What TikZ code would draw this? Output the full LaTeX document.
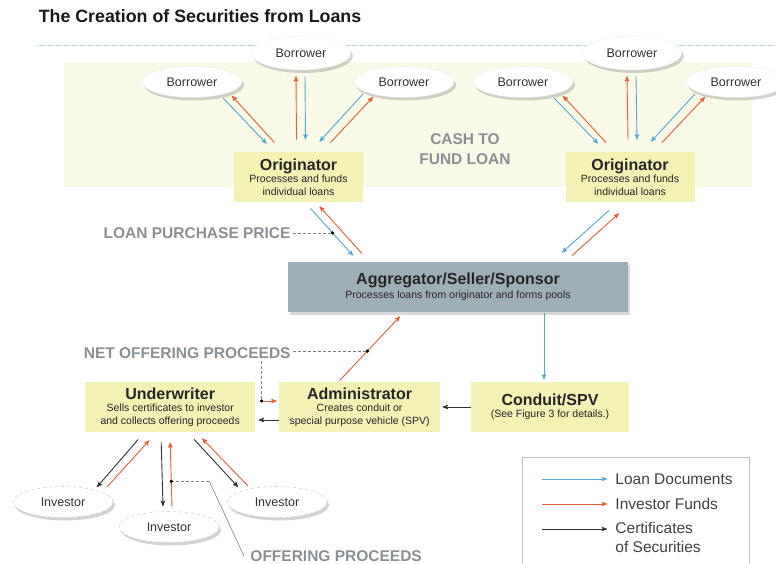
\documentclass[tikz,border=0pt]{standalone}
\usepackage{fontspec}
\setmainfont{Liberation Sans}
\usetikzlibrary{arrows}
\usetikzlibrary{positioning}
\usetikzlibrary{shapes.geometric}
\usetikzlibrary{shadows}
\definecolor{loanblue}{RGB}{86,168,212}
\definecolor{fundred}{RGB}{232,94,54}
\definecolor{certgray}{RGB}{50,50,50}
\definecolor{boxyellow}{RGB}{243,241,180}
\definecolor{cream}{RGB}{249,249,232}
\definecolor{agggray}{RGB}{157,174,182}
\definecolor{taggray}{RGB}{138,143,148}
\newcommand{\hd}{\fontsize{16}{18}\selectfont\bfseries}

\begin{document}
\begin{tikzpicture}[x=1pt, y=-1pt,
                    >=stealth',
                    line width=0.9pt,
                    box/.style={rectangle, fill=boxyellow, align=center, minimum height=50pt, inner sep=2pt, text=black!85, font=\fontsize{10.5}{12.5}\selectfont},
                    party/.style={ellipse, fill=white, draw=gray!20, densely dotted, line width=0.6pt, minimum width=100pt, minimum height=31pt, text=black!80, font=\fontsize{12.5}{14}\selectfont, drop shadow={shadow xshift=2pt, shadow yshift=-3pt, opacity=0.35}},
                    loan/.style={->, loanblue},
                    fund/.style={->, fundred},
                    cert/.style={->, certgray},
                    tag/.style={text=taggray, inner sep=2pt, font=\fontsize{15.5}{20}\selectfont\bfseries},
                    lead/.style={-, gray, densely dashed, line width=0.6pt},
                    key/.style={anchor=west, align=left, inner xsep=8pt, inner ysep=0pt, text=black!75, font=\fontsize{15.5}{19}\selectfont}
                    %ybox/.style={box, drop shadow}
                    ]
  \useasboundingbox (0,0) rectangle (776,564);
  \fill[cream] (64,62) rectangle (752,187);
  \node[anchor=west, text=black!90, font=\fontsize{17.8}{20}\selectfont\bfseries] (title) at (35,16) {The Creation of Securities from Loans};
  \draw[loanblue!60, densely dotted, line width=0.6pt] (38,45) -- (776,45);

  % originators and borrowers
  \node[box, minimum width=129pt] (o1) at (298.5,177) {{\hd Originator}\\Processes and funds\\individual loans};
  \node[box, minimum width=129pt] (o2) at (630,177) {{\hd Originator}\\Processes and funds\\individual loans};
  \node[party] (b1) at (192,82) {Borrower};
  \node[party, minimum height=34pt] (b2) at (301,53) {Borrower};
  \node[party] (b3) at (404,82) {Borrower};
  \node[party] (b4) at (523,82) {Borrower};
  \node[party, minimum height=34pt] (b5) at (632,53) {Borrower};
  \node[party] (b6) at (736,82) {Borrower};
  \node[tag, align=center] (cash) at (465,149) {CASH TO\\FUND LOAN};

  \draw[loan] ([shift={(31,16)}]b1.center) -- ([shift={(-32,-8)}]o1.north);
  \draw[fund] ([shift={(-24,-9)}]o1.north) -- ([shift={(40,14)}]b1.center);
  \draw[fund] ([shift={(-2,-12)}]o1.north) -- ([shift={(-5,6)}]b2.south);
  \draw[loan] ([shift={(4,6)}]b2.south) -- ([shift={(7,-12)}]o1.north);
  \draw[loan] ([shift={(-41,12)}]b3.center) -- ([shift={(21,-10)}]o1.north);
  \draw[fund] ([shift={(32,-9)}]o1.north) -- ([shift={(-31,15)}]b3.center);

  \draw[loan] ([shift={(31,16)}]b4.center) -- ([shift={(-32,-8)}]o2.north);
  \draw[fund] ([shift={(-24,-9)}]o2.north) -- ([shift={(40,14)}]b4.center);
  \draw[fund] ([shift={(-2,-12)}]o2.north) -- ([shift={(-5,6)}]b5.south);
  \draw[loan] ([shift={(4,6)}]b5.south) -- ([shift={(7,-12)}]o2.north);
  \draw[loan] ([shift={(-41,12)}]b6.center) -- ([shift={(21,-10)}]o2.north);
  \draw[fund] ([shift={(32,-9)}]o2.north) -- ([shift={(-31,15)}]b6.center);

  % pooling
  \node[box, fill=agggray, minimum width=340pt, drop shadow={shadow xshift=2pt, shadow yshift=-3pt, opacity=0.3}] (agg) at (458,287) {{\hd Aggregator/Seller/Sponsor}\\[1.5pt]Processes loans from originator and forms pools};
  \node[box, minimum width=158pt] (con) at (550,407) {{\hd Conduit/SPV}\\(See Figure 3 for details.)};
  \node[box, minimum width=161pt] (adm) [left=30pt of con] {{\hd Administrator}\\Creates conduit or\\special purpose vehicle (SPV)};
  \node[box, minimum width=170pt] (und) [left=23pt of adm] {{\hd Underwriter}\\Sells certificates to investor\\and collects offering proceeds};

  \draw[loan] ([shift={(12,6)}]o1.south) -- coordinate[pos=0.52] (lppdot) ([shift={(-105,-6)}]agg.north);
  \draw[fund] ([shift={(-96,-8)}]agg.north) -- ([shift={(21,4)}]o1.south);
  \draw[loan] ([shift={(-21,8)}]o2.south) -- ([shift={(104,-9)}]agg.north);
  \draw[fund] ([shift={(114,-6)}]agg.north) -- ([shift={(-11,11)}]o2.south);
  \draw[loan] ([shift={(86,1)}]agg.south) -- ([shift={(-6,-2)}]con.north);
  \draw[cert] (con.west) -- ([shift={(2,0)}]adm.east);
  \draw[cert] ([shift={(0,13)}]adm.west) -- ([shift={(3,13)}]und.east);
  \draw[fund] ([shift={(6,-6)}]und.east) coordinate (nopdot2) -- ([shift={(-2,-6)}]adm.west);
  \draw[fund] ([shift={(-20,-1)}]adm.north) -- coordinate[pos=0.46] (nopdot) ([shift={(-58,4)}]agg.south);

  % investors
  \node[party, draw=gray!35, dashed] (i1) at (63,502) {Investor};
  \node[party, draw=gray!35, dashed] (i2) at (169,527) {Investor};
  \node[party, draw=gray!35, dashed] (i3) at (277,502) {Investor};
  \draw[cert] ([shift={(-32,7)}]und.south) -- ([shift={(34,-15)}]i1.center);
  \draw[fund] ([shift={(44,-15)}]i1.center) -- ([shift={(-21,8)}]und.south);
  \draw[cert] ([shift={(-9,10)}]und.south) -- ([shift={(-6,-5)}]i2.north);
  \draw[fund] ([shift={(3,-4)}]i2.north) -- coordinate[pos=0.4] (opdot) ([shift={(0,10)}]und.south);
  \draw[cert] ([shift={(24,7)}]und.south) -- ([shift={(-39,-15)}]i3.center);
  \draw[fund] ([shift={(-29,-16)}]i3.center) -- ([shift={(32,6)}]und.south);

  % money labels
  \node[tag, anchor=east] (lpp) at (293,233) {LOAN PURCHASE PRICE};
  \node[tag, anchor=east] (nop) at (293,353) {NET OFFERING PROCEEDS};
  \node[tag, anchor=west] (op) at (248,556) {OFFERING PROCEEDS};
  \draw[lead] (lppdot -| lpp.east) -- (lppdot);
  \draw[lead] (nopdot -| nop.east) -- (nopdot);
  \draw[lead] (nop.south -| nopdot2) -- (nopdot2);
  \draw[lead] (opdot) -- ++(38,0) coordinate (opbend);
  \draw[gray, line width=0.6pt] (opbend) -- ([xshift=-4pt]op.west);
  \fill (lppdot) circle (1.8pt);
  \fill (nopdot) circle (1.8pt);
  \fill (nopdot2) circle (1.8pt);
  \fill (opdot) circle (1.8pt);

  % legend
  \draw[gray!50, line width=0.7pt] (522,457) rectangle (749,580);
  \coordinate (k1) at (542,479);
  \coordinate (k2) at (542,504);
  \coordinate (k3) at (542,529);
  \node[key] (kl) at (607,479) {Loan Documents};
  \node[key] (kf) at (607,504) {Investor Funds};
  \node[key, anchor=north west] (kc) at (607,522) {Certificates\\of Securities};
  \draw[loan] (k1) -- (kl);
  \draw[fund] (k2) -- (kf);
  \draw[cert] (k3) -- (k3 -| kc.west);
\end{tikzpicture}
\end{document}
